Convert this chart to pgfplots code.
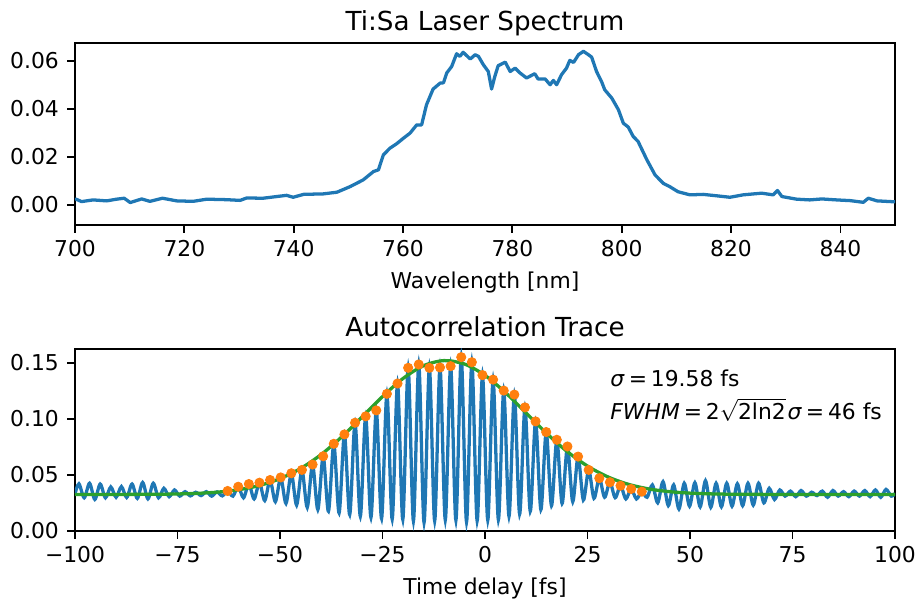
\documentclass[border=0pt]{standalone}
\usepackage{pgfplots}
\pgfplotsset{compat=1.18}
\usepackage{fontspec}
\setmainfont{DejaVu Sans}

\definecolor{mplblue}{HTML}{1F77B4}
\definecolor{mplorange}{HTML}{FF7F0E}
\definecolor{mplgreen}{HTML}{2CA02C}

\newcommand{\eqsp}{\hspace{0.18em}=\hspace{0.18em}}

\pgfplotsset{
  mpl/.style={
    scale only axis,
    width=375.6pt, height=83.4pt,
    axis line style={line width=0.8pt},
    tick align=outside,
    major tick length=3.5pt,
    major tick style={line width=0.8pt, black},
    xtick pos=left, ytick pos=left,
    minor tick num=0,
    scaled y ticks=false, scaled x ticks=false,
    tick label style={font=\fontsize{10}{12}\selectfont, inner sep=0pt},
    xticklabel style={anchor=base, yshift=-11pt},
    yticklabel style={anchor=east, xshift=-3.7pt},
    title style={font=\fontsize{12}{14}\selectfont, inner sep=0pt,
                 at={(0.5,1)}, anchor=base, yshift=-0.5pt},
    xlabel style={font=\fontsize{10}{12}\selectfont, inner sep=0pt,
                  at={(axis description cs:0.5,0)}, anchor=base, yshift=-29.2pt},
  }
}

\begin{document}
\begin{tikzpicture}
\path[use as bounding box] (-34.35pt,-172.2pt) rectangle (385.2pt,103.05pt);

% ---- spectrum of the oscillator ----
\begin{axis}[mpl, at={(0,0)}, anchor=south west,
  xmin=700, xmax=850, ymin=-0.00833, ymax=0.0674,
  xtick={700,720,740,760,780,800,820,840},
  xticklabels={700,720,740,760,780,800,820,840},
  ytick={0,0.02,0.04,0.06},
  yticklabels={0.00,0.02,0.04,0.06},
  title={Ti:Sa Laser Spectrum},
  xlabel={Wavelength [nm]}]
\addplot[mplblue, line width=1.5pt, line join=round] coordinates {
(700.0,0.0022) (700.2,0.0024) (701.2,0.0014) (703.3,0.0021) (705.8,0.0017)
(707.6,0.0024) (709.0,0.0028) (710.1,0.0010) (712.2,0.0025) (713.7,0.0015)
(716.0,0.0028) (718.6,0.0017) (721.6,0.0015) (724.1,0.0024) (727.7,0.0022)
(730.2,0.0019) (731.4,0.0029) (734.4,0.0028) (736.9,0.0035) (738.7,0.0040)
(739.9,0.0032) (741.8,0.0044) (743.5,0.0045) (745.4,0.0046) (747.9,0.0053)
(750.3,0.0076) (752.7,0.0104) (754.6,0.0139) (755.5,0.0146) (756.4,0.0208)
(757.6,0.0236) (758.8,0.0254) (760.1,0.0278) (761.3,0.0299) (762.5,0.0333)
(763.4,0.0333) (764.3,0.0417) (765.5,0.0482) (766.8,0.0507) (767.4,0.0508)
(768.0,0.0549) (768.9,0.0576) (769.8,0.0629) (770.4,0.0618) (771.0,0.0635)
(772.3,0.0607) (773.2,0.0625) (773.8,0.0618) (774.7,0.0583) (775.6,0.0555)
(776.2,0.0482) (776.8,0.0535) (777.4,0.0579) (778.7,0.0594) (779.6,0.0555)
(780.5,0.0569) (781.4,0.0549) (782.6,0.0528) (784.1,0.0546) (784.7,0.0524)
(786.0,0.0524) (786.9,0.0500) (787.5,0.0518) (788.1,0.0500) (789.0,0.0542)
(789.9,0.0569) (790.5,0.0601) (791.2,0.0593) (792.1,0.0625) (793.0,0.0639)
(793.9,0.0625) (794.5,0.0615) (795.4,0.0555) (796.3,0.0514) (796.9,0.0479)
(798.2,0.0444) (799.4,0.0396) (800.3,0.0340) (801.2,0.0324) (802.1,0.0285)
(803.0,0.0264) (804.6,0.0188) (806.1,0.0125) (807.6,0.0090) (808.8,0.0076)
(810.3,0.0055) (812.5,0.0042) (814.9,0.0044) (817.4,0.0038) (819.8,0.0032)
(822.2,0.0042) (825.6,0.0049) (827.7,0.0042) (828.5,0.0060) (829.3,0.0035)
(832.0,0.0024) (834.4,0.0021) (836.6,0.0025) (839.3,0.0021) (841.8,0.0018)
(844.2,0.0011) (845.1,0.0028) (846.7,0.0017) (850.0,0.0013)
};
\end{axis}

% ---- interferometric autocorrelation ----
\begin{axis}[mpl, at={(0,-140.1pt)}, anchor=south west,
  xmin=-100, xmax=100, ymin=0, ymax=0.1625,
  xtick={-100,-75,-50,-25,0,25,50,75,100},
  xticklabels={−100,−75,−50,−25,0,25,50,75,100},
  ytick={0,0.05,0.1,0.15},
  yticklabels={0.00,0.05,0.10,0.15},
  title={Autocorrelation Trace},
  xlabel={Time delay [fs]}]
% measured fringe trace (maxima and minima of each fringe)
\addplot[mplblue, line width=1.5pt, smooth] coordinates {
(-100,0.0330)
(-99.04,0.0420) (-97.75,0.0295) (-96.45,0.0425) (-95.16,0.0280)
(-93.86,0.0418) (-92.57,0.0295) (-91.27,0.0392) (-89.98,0.0300)
(-88.68,0.0395) (-87.39,0.0298) (-86.09,0.0418) (-84.80,0.0290)
(-83.50,0.0432) (-82.21,0.0285) (-80.91,0.0425) (-79.62,0.0295)
(-78.32,0.0380) (-77.03,0.0305) (-75.73,0.0365) (-74.44,0.0310)
(-73.14,0.0350) (-71.85,0.0312) (-70.55,0.0345) (-69.26,0.0315)
(-67.96,0.0350) (-66.67,0.0310) (-65.37,0.0348) (-64.08,0.0312)
(-62.78,0.0356) (-61.49,0.0310) (-60.19,0.0394) (-58.90,0.0295)
(-57.60,0.0418) (-56.31,0.0285) (-55.01,0.0430) (-53.72,0.0270)
(-52.42,0.0454) (-51.13,0.0260) (-49.83,0.0477) (-48.54,0.0245)
(-47.24,0.0514) (-45.95,0.0230) (-44.65,0.0544) (-43.36,0.0210)
(-42.06,0.0592) (-40.77,0.0190) (-39.47,0.0666) (-38.18,0.0175)
(-36.88,0.0777) (-35.59,0.0160) (-34.29,0.0861) (-33.00,0.0145)
(-31.70,0.0965) (-30.41,0.0130) (-29.11,0.1022) (-27.82,0.0120)
(-26.52,0.1075) (-25.23,0.0110) (-23.93,0.1223) (-22.64,0.0105)
(-21.34,0.1315) (-20.05,0.0102) (-18.75,0.1455) (-17.46,0.0088)
(-16.16,0.1485) (-14.87,0.0075) (-13.57,0.1455) (-12.28,0.0090)
(-10.98,0.1458) (-9.69,0.0098) (-8.39,0.1470) (-7.10,0.0095)
(-5.80,0.1550) (-4.51,0.0080) (-3.21,0.1505) (-1.92,0.0090)
(-0.62,0.1390) (0.67,0.0096) (1.97,0.1350) (3.26,0.0100)
(4.56,0.1252) (5.85,0.0130) (7.15,0.1216) (8.44,0.0150)
(9.74,0.1102) (11.03,0.0175) (12.33,0.0977) (13.62,0.0190)
(14.92,0.0882) (16.21,0.0225) (17.51,0.0813) (18.80,0.0245)
(20.10,0.0753) (21.39,0.0260) (22.69,0.0663) (23.98,0.0275)
(25.28,0.0544) (26.57,0.0290) (27.87,0.0470) (29.16,0.0300)
(30.46,0.0434) (31.75,0.0296) (33.05,0.0403) (34.34,0.0285)
(35.64,0.0374) (36.93,0.0285) (38.23,0.0350) (39.52,0.0300)
(40.82,0.0410) (42.11,0.0250) (43.41,0.0439) (44.70,0.0225)
(46.00,0.0410) (47.29,0.0195) (48.59,0.0425) (49.88,0.0220)
(51.18,0.0430) (52.47,0.0215) (53.77,0.0448) (55.06,0.0210)
(56.36,0.0425) (57.65,0.0215) (58.95,0.0425) (60.24,0.0220)
(61.54,0.0420) (62.83,0.0225) (64.13,0.0425) (65.42,0.0230)
(66.72,0.0425) (68.01,0.0250) (69.31,0.0380) (70.60,0.0280)
(71.90,0.0365) (73.19,0.0310) (74.49,0.0355) (75.78,0.0305)
(77.08,0.0360) (78.37,0.0310) (79.67,0.0345) (80.96,0.0315)
(82.26,0.0355) (83.55,0.0300) (84.85,0.0360) (86.14,0.0310)
(87.44,0.0350) (88.73,0.0305) (90.03,0.0355) (91.32,0.0310)
(92.62,0.0360) (93.91,0.0305) (95.21,0.0365) (96.50,0.0300)
(97.80,0.0370) (99.09,0.0310) (100,0.0335)
};
% fringe maxima used for the fit
\addplot[only marks, mark=*, mark size=2.1pt, color=mplorange,
  mark options={draw=none, fill=mplorange}] coordinates {
(-62.78,0.0356) (-60.19,0.0394) (-57.60,0.0418) (-55.01,0.0430)
(-52.42,0.0454) (-49.83,0.0477) (-47.24,0.0514) (-44.65,0.0544)
(-42.06,0.0592) (-39.47,0.0666) (-36.88,0.0777) (-34.29,0.0861)
(-31.70,0.0965) (-29.11,0.1022) (-26.52,0.1075) (-23.93,0.1223)
(-21.34,0.1315) (-18.75,0.1455) (-16.16,0.1485) (-13.57,0.1455)
(-10.98,0.1458) (-8.39,0.1470) (-5.80,0.1550) (-3.21,0.1505)
(-0.62,0.1390) (1.97,0.1350) (4.56,0.1252) (7.15,0.1216)
(9.74,0.1102) (12.33,0.0977) (14.92,0.0882) (17.51,0.0813)
(20.10,0.0753) (22.69,0.0663) (25.28,0.0544) (27.87,0.0470)
(30.46,0.0434) (33.05,0.0403) (35.64,0.0374) (38.23,0.0350)
};
% Gaussian fit of the upper envelope
\addplot[mplgreen, line width=1.5pt, smooth] coordinates {
(-100,0.03250) (-90,0.03253) (-80,0.03268) (-75,0.03294) (-70,0.03351)
(-65,0.03465) (-60,0.03679) (-55,0.04053) (-50,0.04658) (-45,0.05561)
(-40,0.06803) (-35,0.08368) (-30,0.10158) (-25,0.11985) (-20,0.13600)
(-15,0.14738) (-10,0.15196) (-5,0.14888) (0,0.13874) (5,0.12334)
(10,0.10528) (15,0.08712) (20,0.07091) (25,0.05781) (30,0.04812)
(35,0.04153) (40,0.03739) (45,0.03498) (50,0.03368) (55,0.03303)
(60,0.03272) (70,0.03253) (80,0.03250) (100,0.03250)
};
\node[anchor=base west, inner sep=0pt, font=\fontsize{10}{12}\selectfont]
  at (rel axis cs:0.6524,0.794) {\textit{σ}\eqsp19.58 fs};
\node[anchor=base west, inner sep=0pt, font=\fontsize{10}{12}\selectfont]
  at (rel axis cs:0.6524,0.612)
  {\textit{FWHM}\eqsp2$\smash{\sqrt{\mbox{2ln2}}}$\hspace{0.08em}\textit{σ}\eqsp46 fs};
\end{axis}
\end{tikzpicture}
\end{document}
